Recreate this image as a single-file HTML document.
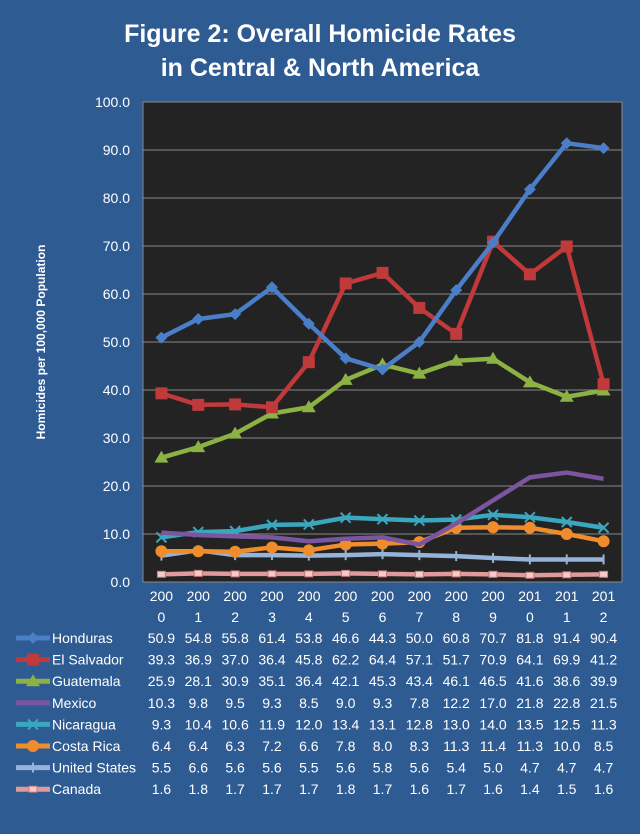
<!DOCTYPE html>
<html><head><meta charset="utf-8"><style>
body{margin:0;width:640px;height:834px;background:#2f5b93;overflow:hidden;font-family:"Liberation Sans",sans-serif;}
svg{display:block}
</style></head><body>
<svg id="c" width="640" height="834">
<text x="320" y="42" text-anchor="middle" fill="#fff" font-size="25" font-weight="bold">Figure 2: Overall Homicide Rates</text>
<text x="320" y="76" text-anchor="middle" fill="#fff" font-size="25" font-weight="bold">in Central &amp; North America</text>
<text transform="translate(45,342) rotate(-90)" text-anchor="middle" fill="#fff" font-size="12" font-weight="bold">Homicides per 100,000 Population</text>
<rect x="143" y="102" width="479" height="480" fill="#232323" stroke="#888"/>
<g id="g"></g>
</svg>
<script>
const years=["2000","2001","2002","2003","2004","2005","2006","2007","2008","2009","2010","2011","2012"];
const names=["Honduras","El Salvador","Guatemala","Mexico","Nicaragua","Costa Rica","United States","Canada"];
const honduras=[50.9,54.8,55.8,61.4,53.8,46.6,44.3,50.0,60.8,70.7,81.8,91.4,90.4];
const elSalvador=[39.3,36.9,37.0,36.4,45.8,62.2,64.4,57.1,51.7,70.9,64.1,69.9,41.2];
const guatemala=[25.9,28.1,30.9,35.1,36.4,42.1,45.3,43.4,46.1,46.5,41.6,38.6,39.9];
const mexico=[10.3,9.8,9.5,9.3,8.5,9.0,9.3,7.8,12.2,17.0,21.8,22.8,21.5];
const nicaragua=[9.3,10.4,10.6,11.9,12.0,13.4,13.1,12.8,13.0,14.0,13.5,12.5,11.3];
const costaRica=[6.4,6.4,6.3,7.2,6.6,7.8,8.0,8.3,11.3,11.4,11.3,10.0,8.5];
const unitedStates=[5.5,6.6,5.6,5.6,5.5,5.6,5.8,5.6,5.4,5.0,4.7,4.7,4.7];
const canada=[1.6,1.8,1.7,1.7,1.7,1.8,1.7,1.6,1.7,1.6,1.4,1.5,1.6];
const yTicks=[0,10,20,30,40,50,60,70,80,90,100];
const series=[honduras,elSalvador,guatemala,mexico,nicaragua,costaRica,unitedStates,canada];
const colors=["#4a7ec9","#c0393b","#8cb244","#7b55a0","#3aa7bf","#ef8d2c","#96b3d9","#e19a9a"];
const markers=["diamond","square","triangle","none","x","circle","plus","rect"];
const X0=143,W=479,Y0=582,H=480;
const step=W/years.length;
const xs=i=>X0+step*(i+0.5);
const ys=v=>Y0-v/100*H;
const g=document.getElementById('g');
const NS="http://www.w3.org/2000/svg";
function mk(t,a,txt){const e=document.createElementNS(NS,t);for(const k in a)e.setAttribute(k,a[k]);if(txt!==undefined)e.textContent=txt;g.appendChild(e);return e;}
yTicks.forEach(v=>{
 if(v>0){const l=mk('line',{x1:X0,x2:X0+W,y1:ys(v),y2:ys(v),stroke:'#8a8a8a','stroke-width':1});
 
 }
 const t=mk('text',{x:130,y:ys(v)+5,'text-anchor':'end',fill:'#fff','font-size':14},v.toFixed(1));
 
 
});
years.forEach((y,i)=>{
 const t1=mk('text',{x:xs(i),y:601,'text-anchor':'middle',fill:'#fff','font-size':14},y.slice(0,3));
 
 
 const t2=mk('text',{x:xs(i),y:622,'text-anchor':'middle',fill:'#fff','font-size':14},y.slice(3));
 
 
});
function marker(type,x,y,c){
 let e;
 if(type=='diamond')e=mk('polygon',{points:`${x},${y-6} ${x+6},${y} ${x},${y+6} ${x-6},${y}`,fill:c});
 else if(type=='square')e=mk('rect',{x:x-6,y:y-6,width:12,height:12,fill:c});
 else if(type=='triangle')e=mk('polygon',{points:`${x},${y-7} ${x+7},${y+5} ${x-7},${y+5}`,fill:c});
 else if(type=='circle')e=mk('circle',{cx:x,cy:y,r:6,fill:c});
 else if(type=='x')e=mk('path',{d:`M${x-5},${y-5}L${x+5},${y+5}M${x+5},${y-5}L${x-5},${y+5}`,stroke:c,'stroke-width':2});
 else if(type=='plus')e=mk('path',{d:`M${x},${y-5}V${y+5}`,stroke:c,'stroke-width':2});
 else if(type=='rect')e=mk('rect',{x:x-4,y:y-3,width:8,height:6,fill:'#f4cccc',stroke:'#c77'});
 else return;
 
 
}
for(let s=series.length-1;s>=0;s--){
 const d=series[s];
 const p=mk('polyline',{points:d.map((v,i)=>xs(i)+','+ys(v)).join(' '),fill:'none',stroke:colors[s],'stroke-width':4.5,'stroke-linejoin':'round'});
 
 
 d.forEach((v,i)=>marker(markers[s],xs(i),ys(v),colors[s]));
}
names.forEach((n,s)=>{
 const ry=643+s*21.6;
 const k=mk('line',{x1:16,x2:50,y1:ry-5,y2:ry-5,stroke:colors[s],'stroke-width':5});
 
 
 marker(markers[s],33,ry-5,colors[s]);
 const t=mk('text',{x:52,y:ry,fill:'#fff','font-size':14},n);
 
 
 series[s].forEach((v,i)=>{
  const c=mk('text',{x:xs(i),y:ry,'text-anchor':'middle',fill:'#fff','font-size':14},v.toFixed(1));
  
  
 });
});
</script>
</body></html>
